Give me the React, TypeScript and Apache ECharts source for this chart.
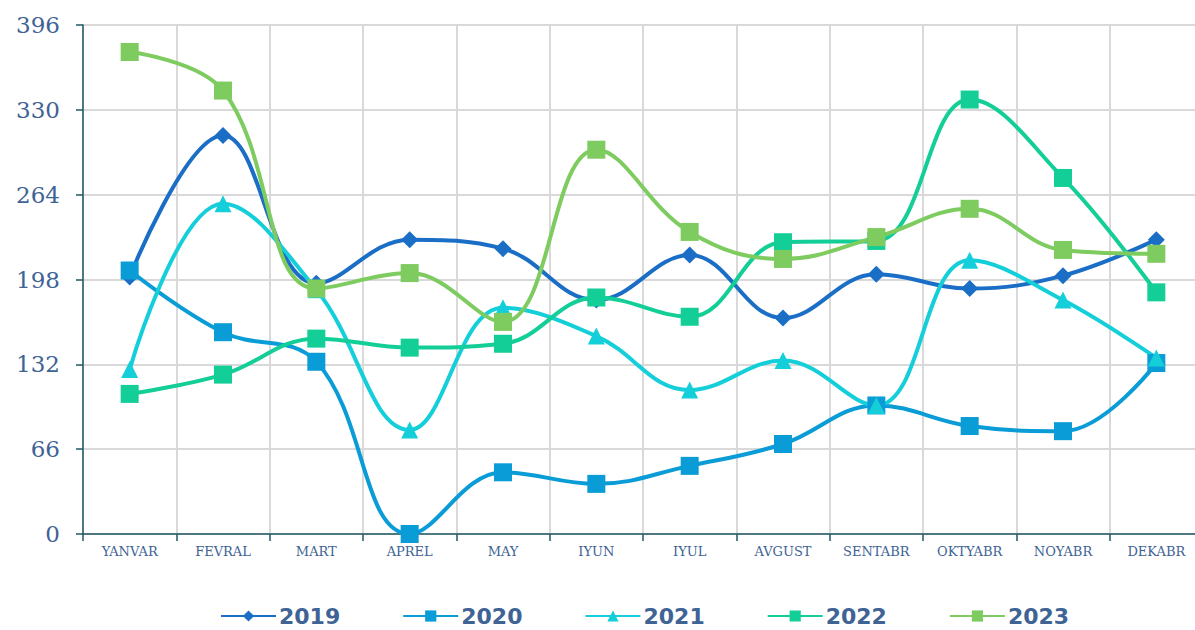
import React, { useEffect, useRef } from "react";
import * as echarts from "echarts";

const categories = ["YANVAR", "FEVRAL", "MART", "APREL", "MAY", "IYUN", "IYUL", "AVGUST", "SENTABR", "OKTYABR", "NOYABR", "DEKABR"];
const yTicks = [0, 66, 132, 198, 264, 330, 396];

const s2019 = [200, 310, 195, 229, 222, 182, 217, 168, 202, 191, 201, 229];
const s2020 = [205, 157, 134, 0, 48, 39, 53, 70, 100, 84, 80, 133];
const s2021 = [128, 257, 190, 81, 176, 154, 112, 135, 100, 213, 182, 137];
const s2022 = [109, 124, 152, 145, 148, 184, 169, 227, 228, 338, 277, 188];
const s2023 = [375, 345, 191, 203, 165, 299, 235, 214, 231, 253, 221, 218];

const seriesDefs = [
  { name: "2019", data: s2019, color: "#1a6ec6", symbol: "diamond", size: 17 },
  { name: "2020", data: s2020, color: "#0a9cd6", symbol: "rect", size: 18 },
  { name: "2021", data: s2021, color: "#14cfda", symbol: "triangle", size: 17 },
  { name: "2022", data: s2022, color: "#14ce97", symbol: "rect", size: 18 },
  { name: "2023", data: s2023, color: "#7ecb60", symbol: "rect", size: 18 },
];

export default function App() {
  const ref = useRef<HTMLDivElement>(null);
  useEffect(() => {
    if (!ref.current) return;
    const chart = echarts.init(ref.current, undefined, { renderer: "svg" });
    const labelColor = "#3e6394";
    const axisColor = "#1f5866";
    chart.setOption({
      animation: false,
      backgroundColor: "#ffffff",
      grid: { left: 83, top: 25, width: 1120, height: 509, outerBoundsMode: "none", containLabel: false },
      legend: {
        top: 605,
        left: 220,
        padding: 0,
        itemGap: 62,
        itemWidth: 55,
        itemHeight: 14,
        textStyle: { color: labelColor, fontSize: 22, fontWeight: "bold", fontFamily: "DejaVu Sans, Verdana, sans-serif", padding: [0, 0, 0, -2] },
        data: seriesDefs.map((s) => s.name),
      },
      xAxis: {
        type: "category",
        data: categories,
        boundaryGap: true,
        axisLine: { lineStyle: { color: axisColor, width: 1.5 } },
        axisTick: { show: true, length: 7, lineStyle: { color: axisColor, width: 1.5 } },
        splitLine: { show: true, lineStyle: { color: "#d9d9d9", width: 2 } },
        axisLabel: { color: labelColor, fontSize: 13, fontFamily: "DejaVu Serif, serif", margin: 11, interval: 0 },
      },
      yAxis: {
        type: "value",
        min: 0,
        max: 396,
        interval: 66,
        axisLine: { show: true, lineStyle: { color: axisColor, width: 1.5 } },
        axisTick: { show: true, length: 7, lineStyle: { color: axisColor, width: 1.5 } },
        splitLine: { show: true, lineStyle: { color: "#d9d9d9", width: 2 } },
        axisLabel: { color: labelColor, fontSize: 23, fontFamily: "DejaVu Serif, serif", margin: 23, formatter: (v: number) => (yTicks.includes(v) ? String(v) : "") },
      },
      series: seriesDefs.map((s) => ({
        name: s.name,
        type: "line",
        data: s.data,
        smooth: 0.4,
        symbol: s.symbol,
        symbolSize: s.size,
        lineStyle: { color: s.color, width: 4 },
        itemStyle: { color: s.color },
      })),
    });
    return () => chart.dispose();
  }, []);
  return <div ref={ref} style={{ position: "fixed", left: 0, top: 0, width: 1195, height: 630 }} />;
}
